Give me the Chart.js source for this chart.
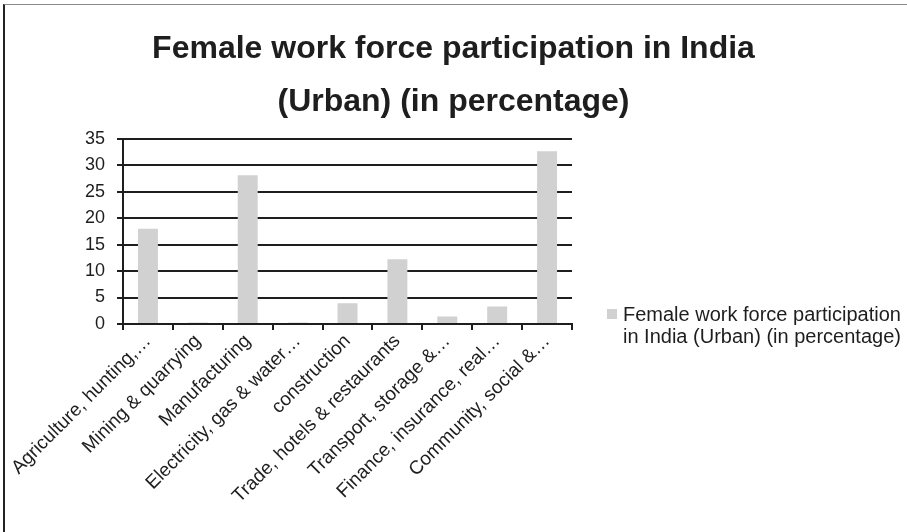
<!DOCTYPE html>
<html>
<head>
<meta charset="utf-8">
<script src="https://cdn.jsdelivr.net/npm/chart.js@4.4.1/dist/chart.umd.min.js"></script>
<style>
  html, body { margin: 0; padding: 0; background: #fff; }
  #wrap { position: relative; width: 907px; height: 532px; }
  #frame {
    position: absolute; left: 3px; top: 4px; right: 0; bottom: 0;
    border-top: 1px solid #8a8a8a; border-left: 2px solid #222;
    pointer-events: none;
  }
</style>
</head>
<body>
<div id="wrap">
  <canvas id="sectorChart" width="907" height="532"></canvas>
  <div id="frame"></div>
</div>
<script>
const sectors = [
  'Agriculture, hunting,…',
  'Mining & quarrying',
  'Manufacturing',
  'Electricity, gas & water…',
  'construction',
  'Trade, hotels & restaurants',
  'Transport, storage &…',
  'Finance, insurance, real…',
  'Community, social &…'
];
const urbanShare = [18.0, 0.3, 28.1, 0.3, 3.9, 12.2, 1.4, 3.3, 32.6];
const seriesName = 'Female work force participation in India (Urban) (in percentage)';
const titleLines = ['Female work force participation in India', '(Urban) (in percentage)'];
const legendLines = ['Female work force participation', 'in India (Urban) (in percentage)'];
const yTicks = [0, 5, 10, 15, 20, 25, 30, 35];

const barGrey = '#d1d1d1';
const ink = '#1e1e1e';
const fontFamily = '"Liberation Sans", Arial, sans-serif';

// legend sits to the right of the plot, wrapped over two lines
const sideLegend = {
  id: 'sideLegend',
  afterDraw(chart) {
    const ctx = chart.ctx;
    const ds = chart.data.datasets[0];
    const x = chart.chartArea.right + 35;
    ctx.save();
    ctx.fillStyle = ds.backgroundColor;
    ctx.fillRect(x, 309, 10, 10);
    ctx.fillStyle = ink;
    ctx.font = '20px ' + fontFamily;
    ctx.textBaseline = 'alphabetic';
    ctx.textAlign = 'left';
    legendLines.forEach((t, i) => ctx.fillText(t, x + 16, 321 + i * 22));
    ctx.restore();
  }
};

new Chart(document.getElementById('sectorChart'), {
  type: 'bar',
  data: {
    labels: sectors,
    datasets: [{
      label: seriesName,
      data: urbanShare,
      backgroundColor: barGrey,
      borderWidth: 0,
      categoryPercentage: 1,
      barPercentage: 0.4
    }]
  },
  options: {
    responsive: false,
    animation: false,
    layout: { padding: 0 },
    plugins: {
      legend: { display: false },
      tooltip: { enabled: false },
      title: {
        display: true,
        text: titleLines,
        color: ink,
        font: { family: fontFamily, size: 32, weight: 'bold', lineHeight: 1.65 },
        padding: { top: 23, bottom: 10 }
      }
    },
    scales: {
      x: {
        grid: { drawOnChartArea: false, drawTicks: true, tickLength: 6, color: ink, lineWidth: 2 },
        border: { color: ink, width: 2 },
        ticks: {
          color: ink,
          maxRotation: 45,
          minRotation: 45,
          autoSkip: false,
          padding: 0,
          font: { family: fontFamily, size: 19 }
        },
        afterFit(scale) { scale.height = 208; }
      },
      y: {
        min: 0,
        max: 35,
        afterBuildTicks(scale) { scale.ticks = yTicks.map(v => ({ value: v })); },
        grid: { color: ink, lineWidth: 2, tickLength: 6 },
        border: { color: ink, width: 2 },
        ticks: {
          color: ink,
          padding: 12,
          font: { family: fontFamily, size: 18 }
        },
        afterFit(scale) { scale.width = 123; }
      },
      // empty axis on the right keeps room for the legend text
      side: {
        type: 'linear',
        position: 'right',
        display: true,
        grid: { display: false },
        border: { display: false },
        ticks: { display: false },
        afterFit(scale) { scale.width = 335; }
      }
    }
  },
  plugins: [sideLegend]
});
</script>
</body>
</html>
